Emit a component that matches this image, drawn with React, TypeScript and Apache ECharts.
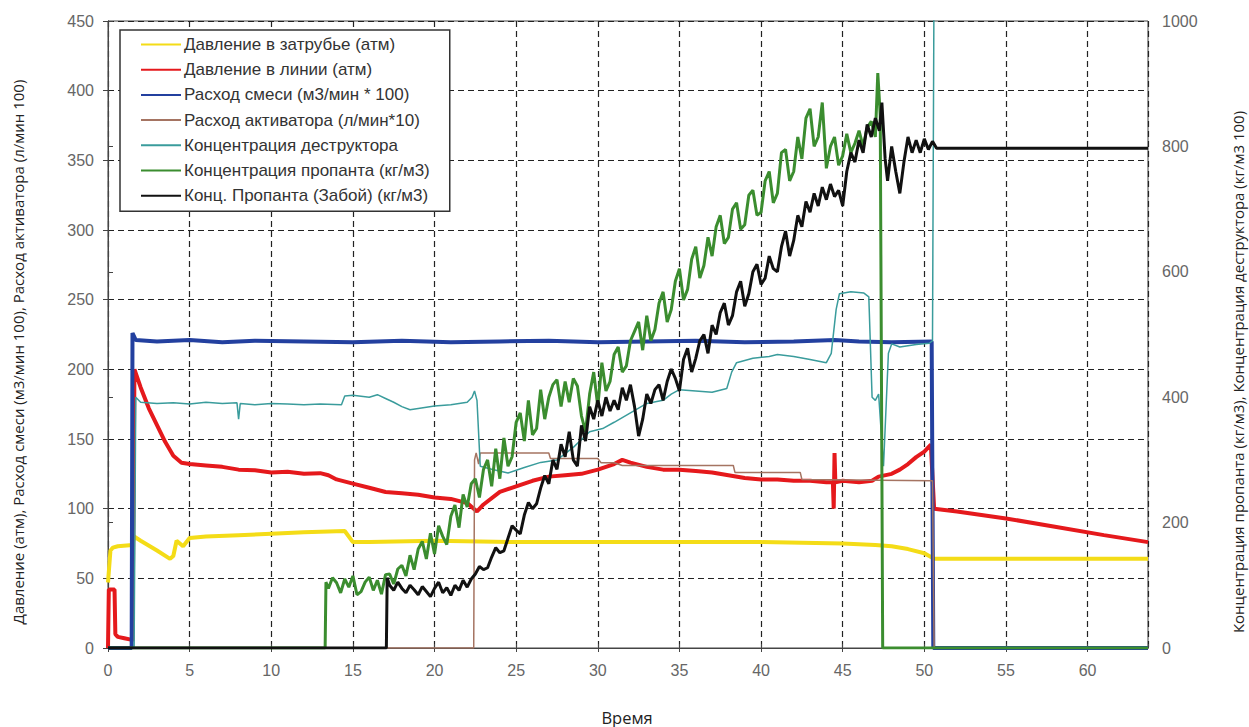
import React, { useEffect, useRef } from "react";
import * as echarts from "echarts";

// ---- data (time in minutes) ----
const seriesNames = [
  "Давление в затрубье (атм)",
  "Давление в линии (атм)",
  "Расход смеси (м3/мин * 100)",
  "Расход активатора (л/мин*10)",
  "Концентрация деструктора",
  "Концентрация пропанта (кг/м3)",
  "Конц. Пропанта (Забой) (кг/м3)",
];
const leftTitle = "Давление (атм), Расход смеси (м3/мин 100), Расход активатора (л/мин 100)";
const rightTitle = "Концентрация пропанта (кг/м3), Концентрация деструктора (кг/м3 100)";
const xTitle = "Время";

const annulusPressure: number[][] = [
  [0, 47], [0.15, 70], [0.3, 72], [0.6, 73], [1.5, 74], [1.6, 80], [2, 77], [3, 70], [3.8, 64],
  [4.0, 66], [4.2, 77], [4.6, 73], [5.0, 79], [6, 80], [8, 81], [10, 82], [12, 83], [14.5, 84],
  [15, 76], [16, 76], [20, 77], [25, 76], [30, 76], [35, 76], [40, 76], [45, 75], [47, 74],
  [48, 73], [49, 71], [50, 68], [50.6, 64], [52, 64], [63.7, 64],
];

const linePressure: number[][] = [
  [0, 0], [0.05, 42], [0.4, 42], [0.45, 10], [0.6, 8], [1.0, 7], [1.4, 6], [1.5, 5], [1.62, 200],
  [2, 187], [2.5, 172], [3, 160], [3.5, 148], [4, 138], [4.5, 133], [5, 132], [6, 131], [7, 130],
  [8, 128], [9, 127.5], [10, 126], [11, 126.5], [12, 125], [13, 125.5], [13.5, 124], [14, 121],
  [15, 118], [16, 115], [17, 112], [18, 111], [19, 110], [20, 108], [21, 107], [22, 104], [22.6, 98],
  [23, 103], [24, 112], [25, 116], [26, 120], [27, 123], [28, 124], [29, 125], [30, 128], [31, 132],
  [31.5, 135], [32, 133], [33, 130], [34, 128], [35, 128], [36, 127], [37, 126], [38, 124],
  [39, 122], [40, 121], [41, 121], [42, 120], [43, 120], [44, 119], [44.4, 119], [44.45, 100],
  [44.5, 140], [44.55, 119], [45, 120], [46, 119], [46.8, 120], [47.2, 123], [48, 125], [48.5, 128],
  [49, 132], [49.5, 137], [50, 141], [50.4, 146], [50.6, 100], [52, 98], [55, 93], [58, 87],
  [61, 81], [63.7, 76],
];

const mixRate: number[][] = [
  [0, 0], [1.45, 0], [1.5, 226], [1.7, 221], [3, 220], [5, 221], [7, 219.5], [9, 220.5], [12, 220],
  [15, 219.5], [18, 220.5], [21, 219.5], [24, 220], [27, 220.5], [30, 219.5], [33, 220], [36, 220.5],
  [39, 219.5], [42, 220], [44.5, 221], [46, 220], [48, 219.5], [50.45, 220], [50.55, 0], [63.7, 0],
];

const activatorRate: number[][] = [
  [0, 0], [22.4, 0], [22.45, 135], [22.55, 140], [22.7, 132], [22.8, 140], [27, 140], [27.1, 136],
  [30, 136], [30.2, 133], [31, 133], [31.5, 131], [38.3, 131], [38.4, 126], [42.4, 126], [42.5, 121],
  [50.5, 120], [50.6, 0], [63.7, 0],
];

const breakerConc: number[][] = [
  [0, 0], [1.6, 0], [1.7, 400], [2.0, 392], [3, 390], [4, 391], [5, 389], [6, 392], [7, 390],
  [7.9, 391], [8.0, 365], [8.1, 390], [9, 388], [10, 390], [11, 389], [12, 388], [13, 389],
  [14.3, 388], [14.5, 402], [15, 403], [16, 400], [16.5, 404], [17, 398], [17.5, 392], [18, 385],
  [18.5, 380], [19, 382], [20, 386], [21, 388], [22, 392], [22.3, 400], [22.45, 410], [22.6, 395],
  [22.8, 290], [23.5, 285], [24.5, 279], [25.5, 288], [26.5, 296], [27.5, 300], [28.5, 320],
  [29.5, 345], [30.3, 350], [31, 360], [32, 375], [33, 390], [34, 395], [34.5, 405], [35, 412],
  [36, 410], [37, 408], [37.9, 414], [38.2, 440], [38.5, 455], [39.5, 462], [40.5, 465], [41, 468],
  [42, 465], [43, 460], [44, 455], [44.3, 470], [44.6, 540], [44.8, 565], [45.5, 568], [46.3, 566],
  [46.6, 560], [46.8, 400], [47.0, 395], [47.2, 405], [47.5, 290], [47.8, 470], [48.0, 485],
  [48.5, 480], [49.5, 484], [50.3, 486], [50.5, 490], [50.6, 1100],
];

// proppant concentration (surface), sampled every 0.25 min from 13.5 to 47.0
const proppantStart = 13.5;
const proppantValues: number[] = [
  95, 112, 104, 88, 110, 97, 115, 85, 90, 105, 113, 92, 108, 86, 117,
  118, 102, 126, 132, 115, 148, 125, 158, 170, 142, 183, 150, 195, 178, 165, 210, 228, 192, 245, 225,
  262, 270, 240, 285, 300, 258, 318, 270, 335, 290, 305, 360, 375, 330, 395, 340, 350, 412, 365, 400,
  420, 428, 385, 425, 392, 430, 418, 370, 345, 405, 440, 385, 455, 410, 425, 468, 480, 440, 450, 490,
  505, 520, 475, 530, 490, 508, 550, 568, 520, 540, 585, 605, 555, 572, 620, 640, 590, 610, 655, 625,
  672, 690, 645, 655, 700, 710, 668, 675, 722, 730, 690, 695, 745, 760, 710, 725, 790, 795, 745, 760,
  815, 780, 845, 860, 800, 815, 870, 765, 800, 815, 770, 785, 820, 790, 805, 825, 800, 830, 840, 815,
];
const proppantHead: number[][] = [[0, 0], [13.3, 0], [13.35, 105]];
const proppantTail: number[][] = [[47.15, 917], [47.3, 850], [47.45, 0], [63.7, 0]];

// proppant concentration (bottomhole), sampled every 0.25 min from 17.25 to 47.25
const bottomStart = 17.25;
const bottomValues: number[] = [
  100, 92, 105, 95, 88, 100, 93, 85, 98, 90, 82, 95, 105, 88, 96, 84, 100, 92, 108, 97,
  110, 118, 130, 125, 128, 145, 160, 152, 155, 175, 195, 188, 182, 212, 232, 222, 230, 255, 275, 262,
  300, 285, 325, 305, 345, 300, 290, 355, 330, 385, 365, 395, 370, 400, 378, 395, 380, 415, 395, 420,
  385, 338, 365, 405, 390, 412, 420, 395, 425, 445, 430, 410, 460, 478, 440, 462, 490, 500, 470, 515,
  500, 535, 550, 515, 530, 568, 585, 545, 565, 600, 612, 580, 590, 625, 605, 600, 640, 665, 625, 650,
  690, 672, 712, 695, 725, 705, 735, 715, 740, 720, 730, 705, 760, 790, 775, 810, 790, 835, 815, 845,
  825,
];
const bottomHead: number[][] = [[0, 0], [17.05, 0], [17.1, 112]];
const bottomTail: number[][] = [
  [47.4, 870], [47.6, 780], [47.75, 745], [48, 800], [48.25, 760], [48.5, 725], [48.75, 775],
  [49, 815], [49.25, 790], [49.5, 810], [49.75, 790], [50, 812], [50.25, 795], [50.5, 808],
  [50.75, 797], [63.7, 797],
];

const leftTicks = { min: 0, max: 450, interval: 50 };
const rightTicks = { min: 0, max: 1000, interval: 200 };
const timeTicks = { min: 0, max: 63.7, interval: 5 };

const colors = ["#f4dc17", "#e5191c", "#23409f", "#a57462", "#3a9c9c", "#3b8d2f", "#111111"];
const widths = [4, 4, 4, 1.5, 1.5, 3, 3];

const FONT = "'Liberation Sans', Arial, sans-serif";
const TITLE_FONT = "'Open Sans', 'Noto Sans', sans-serif";

const vTitleStyle = (left: number, top: number): React.CSSProperties => ({
  position: "absolute",
  left,
  top,
  transform: "translate(-50%, -50%) rotate(-90deg)",
  whiteSpace: "nowrap",
  fontFamily: TITLE_FONT,
  fontSize: 15,
  lineHeight: "16px",
  color: "#222",
  pointerEvents: "none",
});

export default function App() {
  const ref = useRef<HTMLDivElement>(null);
  useEffect(() => {
    if (!ref.current) return;
    const chart = echarts.init(ref.current, undefined, { renderer: "svg" });
    const proppant = proppantHead
      .concat(proppantValues.map((v, i) => [proppantStart + i * 0.25, v]))
      .concat(proppantTail);
    const bottom = bottomHead
      .concat(bottomValues.map((v, i) => [bottomStart + i * 0.25, v]))
      .concat(bottomTail);
    const datasets = [annulusPressure, linePressure, mixRate, activatorRate, breakerConc, proppant, bottom];
    const yIdx = [0, 0, 0, 0, 1, 1, 1];

    const splitLine = { show: true, lineStyle: { color: "#222", type: [6, 4], width: 1.2 } };
    const labelStyle = { color: "#666", fontSize: 16, fontFamily: FONT };

    chart.setOption({
      animation: false,
      backgroundColor: "#fff",
      textStyle: { fontFamily: FONT },
      grid: {
        left: 108, right: 101, top: 21, bottom: 79, show: true, borderColor: "#444", borderWidth: 1,
        containLabel: false, outerBoundsMode: "none",
      },
      graphic: [
        {
          type: "text", x: 627, y: 717,
          style: { text: xTitle, fontSize: 16.5, fontFamily: TITLE_FONT, fill: "#222", align: "center", verticalAlign: "middle" },
        },
      ],
      legend: {
        data: seriesNames,
        orient: "vertical",
        left: 120,
        top: 30,
        padding: [6, 20, 7, 20],
        itemWidth: 40,
        itemHeight: 14,
        itemGap: 8.2,
        backgroundColor: "#fff",
        borderColor: "#333",
        borderWidth: 1.5,
        borderRadius: 0,
        itemStyle: { opacity: 0 },
        textStyle: { color: "#333", fontSize: 17, lineHeight: 14, fontFamily: FONT, padding: [0, 0, 0, -2] },
      },
      xAxis: [
        {
          type: "value",
          ...timeTicks,
          axisLine: { lineStyle: { color: "#444" } },
          axisTick: { length: 4, lineStyle: { color: "#444" } },
          axisLabel: { ...labelStyle, margin: 14, showMaxLabel: false },
          splitLine,
        },
        {
          type: "value",
          position: "top",
          ...timeTicks,
          axisLine: { lineStyle: { color: "#444" } },
          axisTick: { length: 4, lineStyle: { color: "#444" } },
          axisLabel: { show: false },
          splitLine: { show: false },
        },
      ],
      yAxis: [
        {
          type: "value",
          ...leftTicks,
          axisLine: { show: true, lineStyle: { color: "#444" } },
          axisTick: { show: true, length: 5, lineStyle: { color: "#444" } },
          axisLabel: { ...labelStyle, margin: 14 },
          splitLine,
        },
        {
          type: "value",
          ...rightTicks,
          axisLine: { show: true, lineStyle: { color: "#444" } },
          axisTick: { show: true, length: 5, lineStyle: { color: "#444" } },
          axisLabel: { ...labelStyle, margin: 14, formatter: (v: number) => String(v) },
          splitLine: { show: false },
        },
      ],
      series: seriesNames.map((name, i) => ({
        name,
        type: "line",
        yAxisIndex: yIdx[i],
        data: datasets[i],
        symbol: "none",
        showSymbol: false,
        clip: true,
        color: colors[i],
        lineStyle: { color: colors[i], width: widths[i] },
        z: 2 + i,
      })),
    });
    return () => chart.dispose();
  }, []);
  return (
    <div style={{ position: "absolute", left: 0, top: 0, width: 1249, height: 727, overflow: "hidden", background: "#fff" }}>
      <div ref={ref} style={{ position: "absolute", left: 0, top: 0, width: 1249, height: 727 }} />
      <div style={vTitleStyle(18, 352)}>{leftTitle}</div>
      <div style={vTitleStyle(1238, 372)}>{rightTitle}</div>
    </div>
  );
}
